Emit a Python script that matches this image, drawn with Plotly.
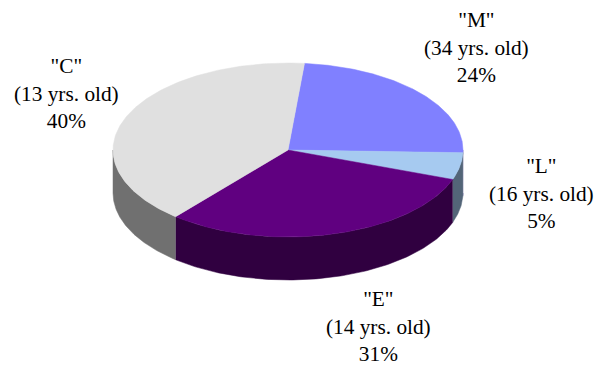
import numpy as np
import plotly.graph_objects as go

categories = ['"M"', '"L"', '"E"', '"C"']
ages = ["34 yrs. old", "16 yrs. old", "14 yrs. old", "13 yrs. old"]
values = [24.0, 5.0, 30.6, 40.4]
top_colors = ["#8080FF", "#A6CAF0", "#600080", "#E0E0E0"]
side_colors = ["#404080", "#536578", "#300040", "#707070"]

W, H = 597, 365
CX, CY, RX, RY, DEPTH = 288, 150, 175, 87, 43
START_DEG = 5.4
LABEL_POS = [(476, 47), (541, 193), (378, 326), (66, 93)]

def ell(t):
    return CX + RX * np.sin(t), CY - RY * np.cos(t)

fig = go.Figure()
total = sum(values)
edges = np.radians(START_DEG + np.cumsum([0] + values) / total * 360)

# side walls
for i in range(len(values)):
    a, b = edges[i], edges[i + 1]
    lo, hi = max(a, np.pi / 2), min(b, 3 * np.pi / 2)
    if hi <= lo:
        continue
    t = np.linspace(lo, hi, 120)
    x, y = ell(t)
    fig.add_trace(go.Scatter(
        x=np.r_[x, x[::-1]], y=np.r_[y, y[::-1] + DEPTH],
        mode="lines", fill="toself", fillcolor=side_colors[i],
        line=dict(width=0.5, color=side_colors[i]), hoverinfo="skip", showlegend=False))

# top faces
for i in range(len(values)):
    t = np.linspace(edges[i], edges[i + 1], 200)
    x, y = ell(t)
    fig.add_trace(go.Scatter(
        x=np.r_[CX, x, CX], y=np.r_[CY, y, CY],
        mode="lines", fill="toself", fillcolor=top_colors[i],
        line=dict(width=0.5, color=top_colors[i]), hoverinfo="skip", showlegend=False))

for i in range(len(values)):
    fig.add_annotation(
        x=LABEL_POS[i][0], y=LABEL_POS[i][1],
        text=f"{categories[i]}<br>({ages[i]})<br>{round(values[i])}%",
        showarrow=False, align="center",
        font=dict(family="Liberation Serif", size=21.3, color="#000000"))

fig.update_xaxes(range=[0, W], visible=False, fixedrange=True)
fig.update_yaxes(range=[H, 0], visible=False, fixedrange=True)
fig.update_layout(width=W, height=H, margin=dict(l=0, r=0, t=0, b=0),
                  paper_bgcolor="#FFFFFF", plot_bgcolor="#FFFFFF", showlegend=False)
fig.write_html("out.html", config={"displayModeBar": False},
               post_script="document.body.style.margin='0';document.body.style.overflow='hidden';")
